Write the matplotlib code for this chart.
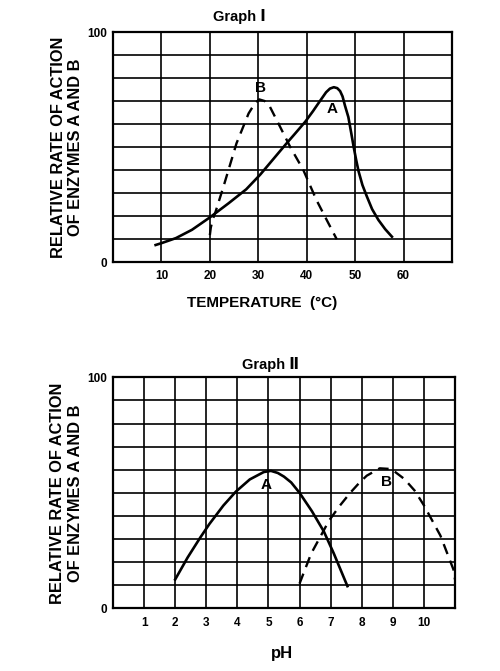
import matplotlib
matplotlib.use("Agg")
import matplotlib.pyplot as plt

plt.rcParams['font.family'] = ['Liberation Sans', 'DejaVu Sans']
plt.rcParams['font.weight'] = 'bold'

# Graph I: rate vs temperature
temp_a = [8.8, 10, 13, 16.3, 20, 23.9, 27.5, 30.4, 33.2, 35.6, 37.5, 39.7,
          41.3, 42.8, 44, 44.8, 45.6, 46.3, 46.9, 47.4, 47.9, 48.6, 49.2, 49.7,
          50.2, 50.7, 51.5, 52.4, 53.5, 54.8, 56.2, 57.6]
rate_temp_a = [7.4, 8.2, 10.4, 14, 19.4, 25.6, 31.6, 38, 45, 51, 55.6, 61,
               65.6, 70.2, 73.8, 75.4, 76, 75.6, 74.3, 72, 68, 63, 56, 50,
               44.5, 39.5, 33.5, 28.6, 23, 18.3, 14.3, 11]
temp_b = [20, 20.2, 20.6, 21.2, 22.8, 25.5, 28, 29.3, 30.2, 31.3, 32.4, 34.5,
          36.6, 39.3, 42, 44.2, 46.2]
rate_temp_b = [11.7, 15, 18.5, 22, 32.7, 51.6, 64.6, 69, 70.7, 70, 67.5, 58.8,
               50, 40, 27, 18, 9.9]
temp_ticks = [0, 10, 20, 30, 40, 50, 60, 70]
temp_labels = ['', '10', '20', '30', '40', '50', '60', '']

# Graph II: rate vs pH
ph_a = [2.0, 2.4, 2.8, 3.1, 3.55, 3.95, 4.4, 4.85, 5.08, 5.3, 5.5, 5.73, 6.0,
        6.4, 6.78, 7.1, 7.54]
rate_ph_a = [12.5, 22, 30.5, 36.5, 44.5, 50.5, 55.8, 59, 59.5, 58.6, 57, 54.5,
             50, 42, 33.3, 23.8, 9.6]
ph_b = [6.0, 6.37, 6.95, 7.3, 7.63, 7.9, 8.16, 8.58, 8.95, 9.37, 9.7, 10.0,
        10.53, 10.95, 11.0]
rate_ph_b = [10.7, 23.6, 38, 44.5, 50, 54, 57.4, 60.6, 60.3, 56, 51, 44.6,
             31.5, 16.8, 12.5]
ph_ticks = list(range(0, 12))
ph_labels = [''] + [str(v) for v in range(1, 11)] + ['']

rate_ticks = list(range(0, 101, 10))
rate_labels = ['0'] + [''] * 9 + ['100']

YLABEL = "RELATIVE RATE OF ACTION\nOF ENZYMES A AND B"

fig = plt.figure(figsize=(5, 6.71), dpi=100)
ax1 = fig.add_axes([0.226, 0.6095, 0.678, 0.3428])
ax2 = fig.add_axes([0.226, 0.0934, 0.684, 0.3443])


def style(ax, xmax, xticks, xlabels):
  ax.set_xlim(0, xmax)
  ax.set_ylim(0, 100)
  ax.set_xticks(xticks)
  ax.set_xticklabels(xlabels, fontsize=8.5, fontweight='bold')
  ax.set_yticks(rate_ticks)
  ax.set_yticklabels(rate_labels, fontsize=8.5, fontweight='bold')
  ax.tick_params(length=0, pad=6)
  ax.tick_params(axis='y', pad=4)
  ax.grid(True, color='black', linewidth=1.2)
  for s in ax.spines.values():
    s.set_linewidth(1.6)
  ax.text(-0.136, 0.5, YLABEL, transform=ax.transAxes, rotation=90,
          ha='center', va='center', multialignment='center',
          fontsize=11.8, fontweight='bold', linespacing=1.2)


style(ax1, 70, temp_ticks, temp_labels)
ax1.plot(temp_a, rate_temp_a, color='black', lw=1.9, solid_joinstyle='round')
ax1.plot(temp_b, rate_temp_b, color='black', lw=1.7, dashes=(4.5, 3))
ax1.text(30.5, 75.5, 'B', ha='center', va='center', fontsize=11, fontweight='bold')
ax1.text(45.2, 66.5, 'A', ha='center', va='center', fontsize=11, fontweight='bold')
ax1.text(0.44, -0.178, 'TEMPERATURE  (°C)', transform=ax1.transAxes,
         ha='center', va='center', fontsize=11, fontweight='bold')

style(ax2, 11, ph_ticks, ph_labels)
ax2.plot(ph_a, rate_ph_a, color='black', lw=1.9, solid_joinstyle='round')
ax2.plot(ph_b, rate_ph_b, color='black', lw=1.7, dashes=(4.5, 3))
ax2.text(4.94, 53.4, 'A', ha='center', va='center', fontsize=11, fontweight='bold')
ax2.text(8.8, 54.8, 'B', ha='center', va='center', fontsize=11, fontweight='bold')
ax2.text(0.494, -0.194, 'pH', transform=ax2.transAxes,
         ha='center', va='center', fontsize=12, fontweight='bold')

fig.text(239 / 500, 1 - 17 / 671, 'Graph Ⅰ', ha='center', va='center',
         fontsize=10.5, fontweight='bold')
fig.text(270 / 500, 1 - 365 / 671, 'Graph Ⅱ', ha='center', va='center',
         fontsize=10.5, fontweight='bold')

fig.savefig('out.png', dpi=100)
